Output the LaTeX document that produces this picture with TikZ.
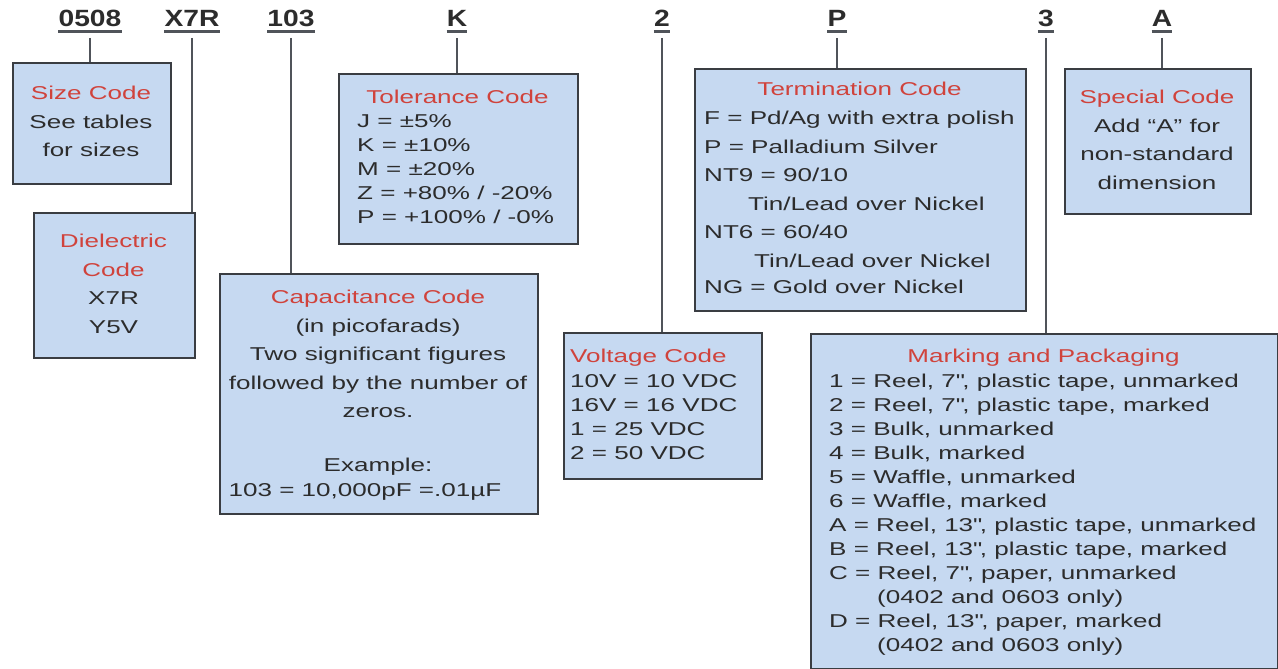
\documentclass[tikz,border=0pt]{standalone}
\usepackage{fontspec}
\setmainfont{Liberation Sans}[FakeStretch=1.4]
\newfontfamily\labelfont{Liberation Sans}[FakeStretch=1.2]
\usetikzlibrary{positioning}

\definecolor{boxfill}{HTML}{C6D9F1}
\definecolor{boxline}{HTML}{3A3D42}
\definecolor{titlered}{HTML}{D0433C}
\definecolor{textgray}{HTML}{2C2C2C}
\definecolor{leadgray}{HTML}{50545A}

\tikzset{
  codebox/.style={draw=boxline, fill=boxfill, line width=1.8pt, anchor=north west, inner sep=0pt},
  tight/.style={font=\fontsize{18.6}{24}\selectfont, text=textgray, inner sep=0pt},
  loose/.style={font=\fontsize{18.6}{28.5}\selectfont, text=textgray, inner sep=0pt},
  boxtitle/.style={tight, text=titlered, anchor=north},
  codelabel/.style={font=\labelfont\fontsize{23.5}{24}\selectfont\bfseries, text=textgray, anchor=base, inner sep=0pt},
  uline/.style={draw=leadgray, line width=2.2pt},
  lead/.style={draw=leadgray, line width=1.8pt}
}
\newcommand{\ttl}[1]{\textcolor{titlered}{#1}}
\newcommand{\inch}{\textquotedbl}

\begin{document}
\begin{tikzpicture}[x=1pt, y=-1pt]
        \path[fill=white, use as bounding box] (0,0) rectangle (1278,669);

        % part number fields
        \node[codelabel] (l0508) at (90,27)   {0508};
        \node[codelabel] (lx7r)  at (192,27)  {X7R};
        \node[codelabel] (l103)  at (291,27)  {103};
        \node[codelabel] (lk)    at (457,27)  {K};
        \node[codelabel] (l2)    at (662,27)  {2};
        \node[codelabel] (lp)    at (837,27)  {P};
        \node[codelabel] (l3)    at (1046,27) {3};
        \node[codelabel] (la)    at (1162,27) {A};

        % boxes
        \node[codebox, minimum width=158, minimum height=121] (size) at (12,62)   {};
        \node[codebox, minimum width=161, minimum height=145] (diel) at (33,212)  {};
        \node[codebox, minimum width=318, minimum height=240] (cap)  at (219,273) {};
        \node[codebox, minimum width=239, minimum height=170] (tol)  at (338,73)  {};
        \node[codebox, minimum width=198, minimum height=146] (volt) at (563,332) {};
        \node[codebox, minimum width=331, minimum height=242] (term) at (694,68)  {};
        \node[codebox, minimum width=467, minimum height=335] (mark) at (810,333) {};
        \node[codebox, minimum width=186, minimum height=145] (spec) at (1064,68) {};

        % texts
        \node[loose, anchor=north, align=center] (sizetxt) at (91,86.3)
          {\ttl{Size Code}\\See tables\\for sizes};
        \node[loose, anchor=north, align=center] (dieltxt) at (113.5,234.3)
          {\ttl{Dielectric}\\\ttl{Code}\\X7R\\Y5V};
        \node[loose, anchor=north, align=center] (captxt) at (378,290.3)
          {\ttl{Capacitance Code}\\(in picofarads)\\Two significant figures\\followed by the number of\\zeros.\\\\[-3pt]
           Example:\\[-3.5pt]103 = 10,000pF =.01µF\hspace*{26pt}};
        \node[boxtitle] (toltitle) at (457.5,90.3) {Tolerance Code};
        \node[tight, anchor=north west, align=left] (toltxt) at (357,114.3)
          {J = ±5\%\\K = ±10\%\\M = ±20\%\\Z = +80\% / -20\%\\P = +100\% / -0\%};
        \node[tight, anchor=north west, align=left] (volttxt) at (570,349.3)
          {\ttl{Voltage Code}\\[0.5pt]10V = 10 VDC\\16V = 16 VDC\\1 = 25 VDC\\2 = 50 VDC};
        \node[boxtitle] (termtitle) at (859.5,82.3) {Termination Code};
        \node[loose, anchor=north west, align=left] (termtxt) at (704,111.3)
          {F = Pd/Ag with extra polish\\P = Palladium Silver\\NT9 = 90/10\\
           \hspace*{44pt}Tin/Lead over Nickel\\NT6 = 60/40\\
           \hspace*{50pt}Tin/Lead over Nickel\\[-2.5pt]NG = Gold over Nickel};
        \node[loose, anchor=north, align=center] (spectxt) at (1157,90.3)
          {\ttl{Special Code}\\Add “A” for\\non-standard\\dimension};
        \node[boxtitle] (marktitle) at (1043.5,349.3) {Marking and Packaging};
        \node[tight, anchor=north west, align=left] (marktxt) at (829,374.3)
          {1 = Reel, 7\inch, plastic tape, unmarked\\2 = Reel, 7\inch, plastic tape, marked\\
           3 = Bulk, unmarked\\4 = Bulk, marked\\5 = Waffle, unmarked\\6 = Waffle, marked\\
           A = Reel, 13\inch, plastic tape, unmarked\\B = Reel, 13\inch, plastic tape, marked\\
           C = Reel, 7\inch, paper, unmarked\\\hspace*{48pt}(0402 and 0603 only)\\
           D = Reel, 13\inch, paper, marked\\\hspace*{48pt}(0402 and 0603 only)};

        % underlines
        \foreach \f in {l0508, lx7r, l103, lk, l2, lp, l3, la}
          \draw[uline] ([yshift=-4.5pt]\f.base west) -- ([yshift=-4.5pt]\f.base east);

        % leads
        \draw[lead] ([yshift=-11pt]l0508.base) -- (l0508.base |- size.north);
        \draw[lead] ([yshift=-11pt]lx7r.base)  -- (lx7r.base |- diel.north);
        \draw[lead] ([yshift=-11pt]l103.base)  -- (l103.base |- cap.north);
        \draw[lead] ([yshift=-11pt]lk.base)    -- (lk.base |- tol.north);
        \draw[lead] ([yshift=-11pt]l2.base)    -- (l2.base |- volt.north);
        \draw[lead] ([yshift=-11pt]lp.base)    -- (lp.base |- term.north);
        \draw[lead] ([yshift=-11pt]l3.base)    -- (l3.base |- mark.north);
        \draw[lead] ([yshift=-11pt]la.base)    -- (la.base |- spec.north);
      \end{tikzpicture}
\end{document}
